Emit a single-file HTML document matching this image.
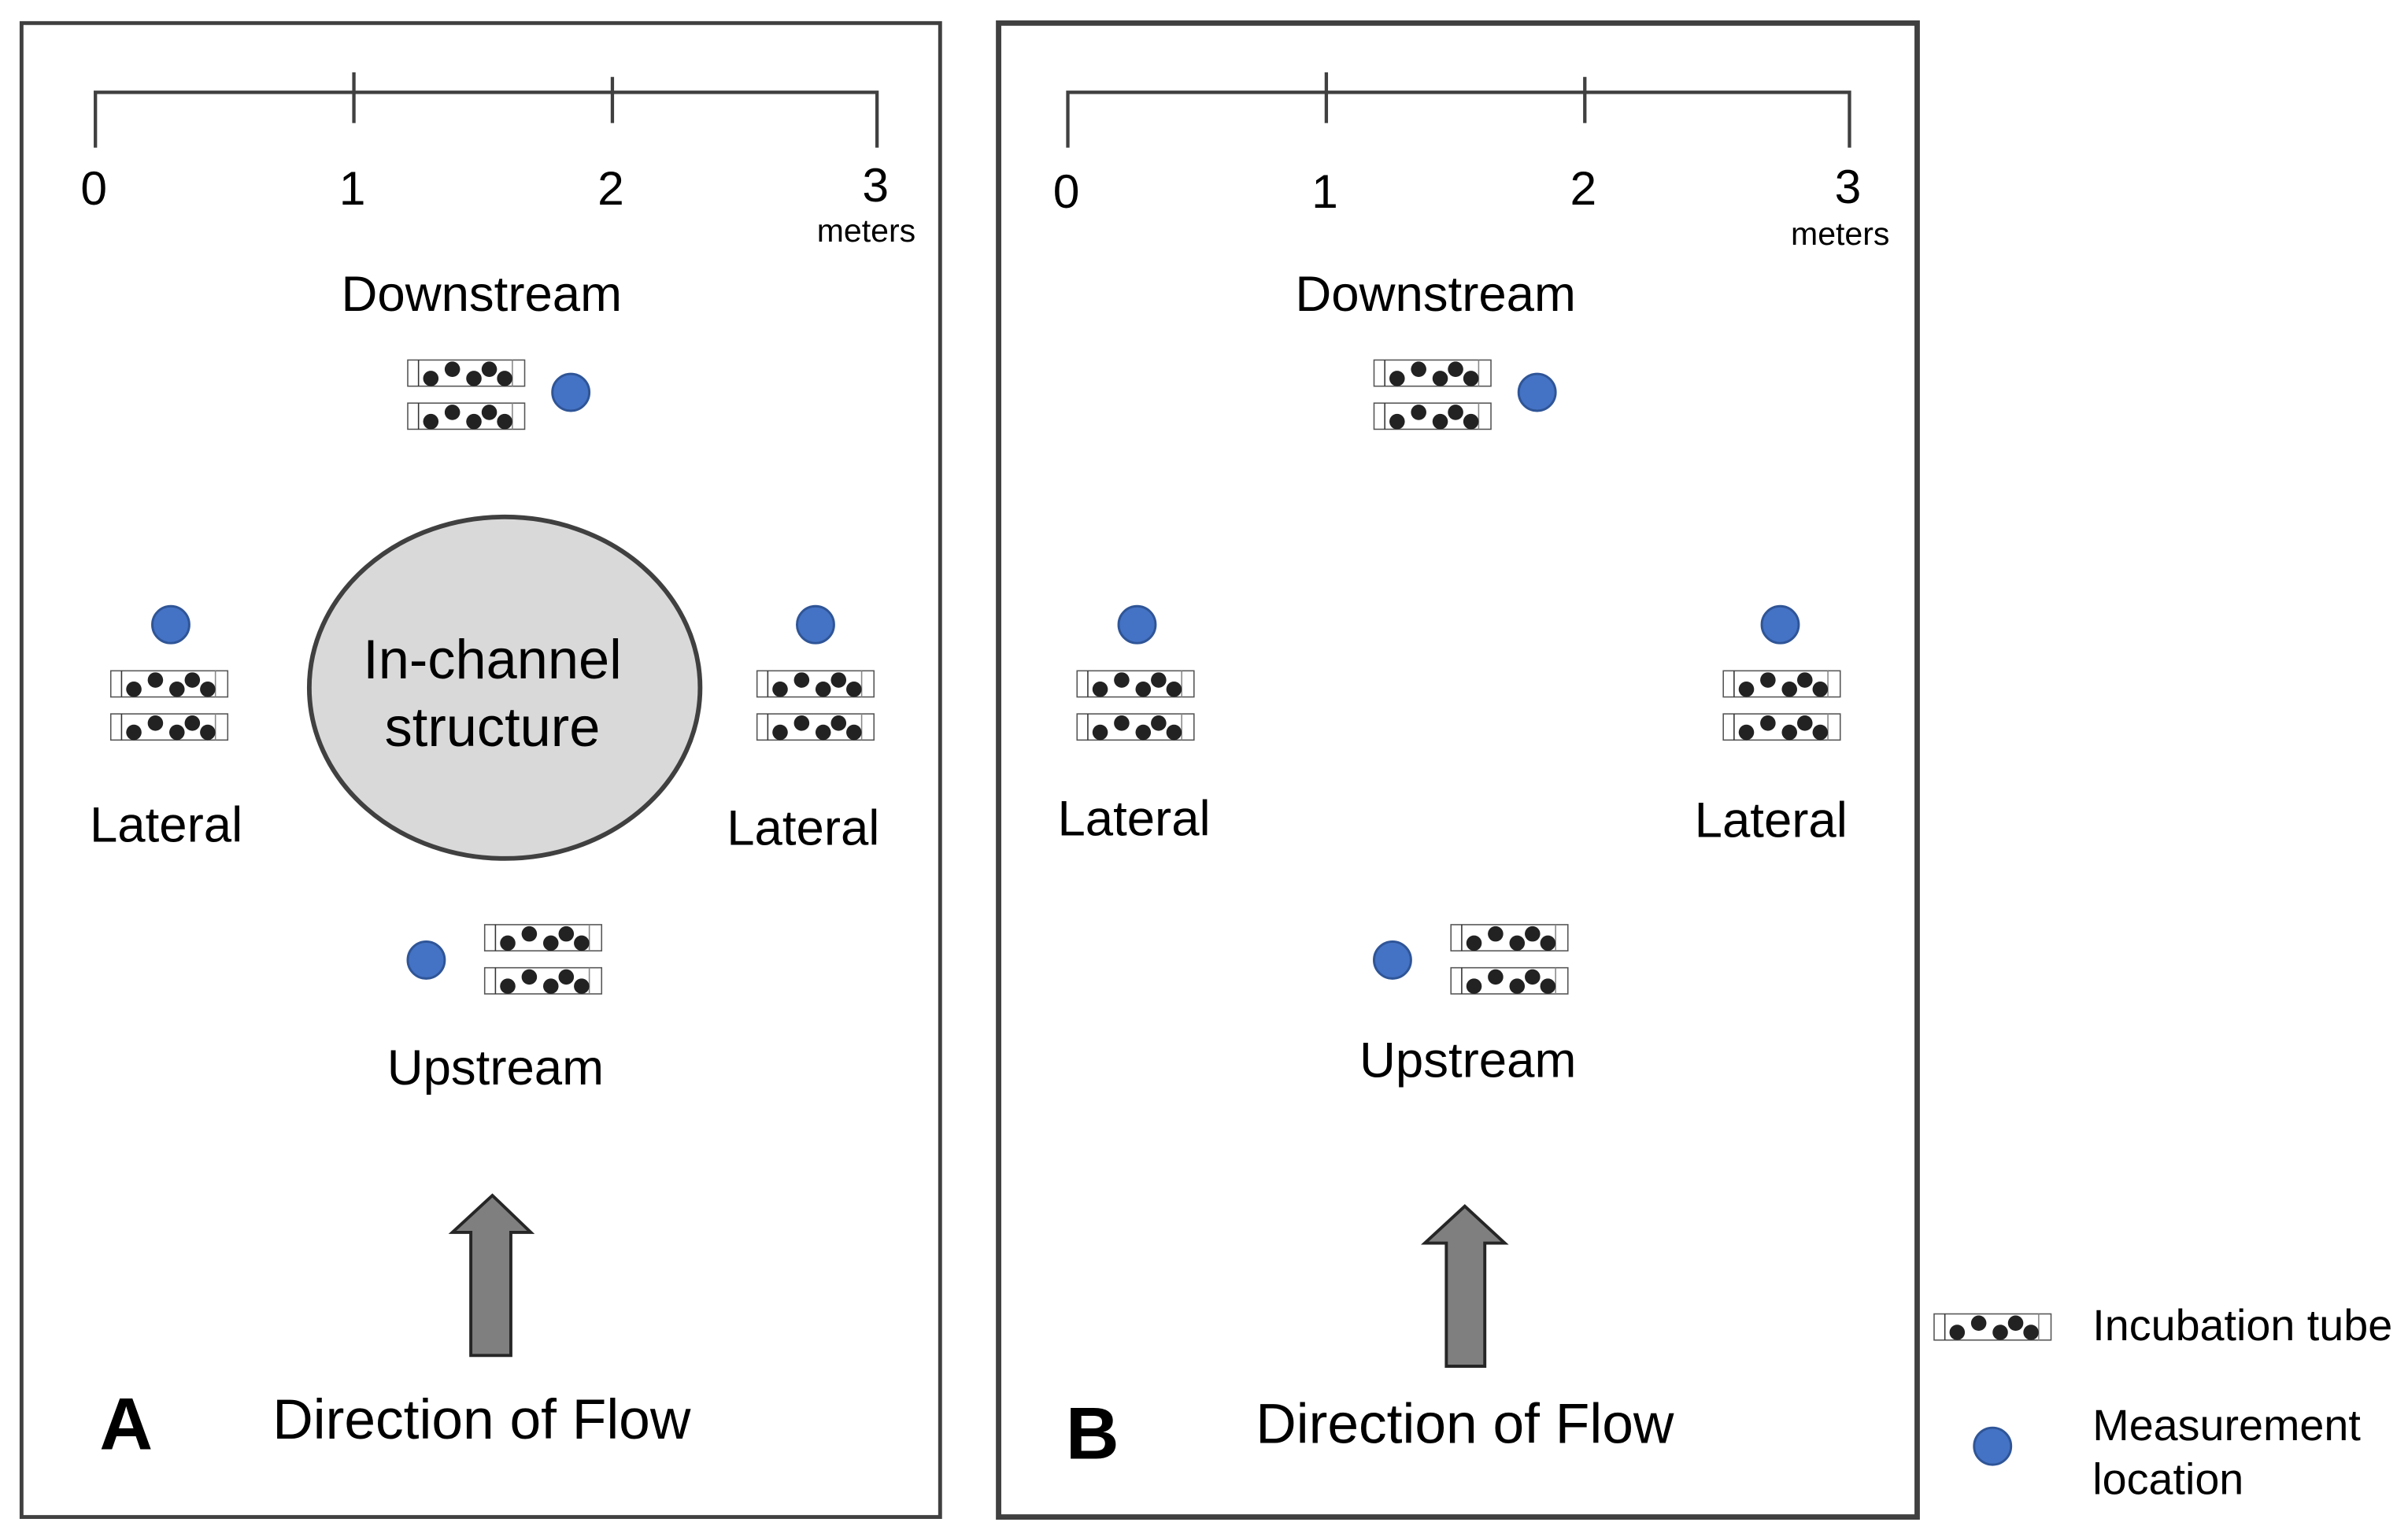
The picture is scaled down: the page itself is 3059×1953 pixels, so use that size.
<!DOCTYPE html>
<html><head><meta charset="utf-8"><style>html,body{margin:0;padding:0;background:#fff}svg{display:block}text{font-family:"Liberation Sans",Arial,sans-serif;fill:#000}</style></head>
<body>
<svg width="3059" height="1953" viewBox="0 0 1565 999" preserveAspectRatio="none" xmlns="http://www.w3.org/2000/svg">
<defs>
<g id="tube">
<rect x="0" y="0" width="76" height="17" fill="#fff" stroke="#555" stroke-width="0.8"/>
<line x1="7" y1="0" x2="7" y2="17" stroke="#333" stroke-width="0.8"/>
<line x1="68" y1="0" x2="68" y2="17" stroke="#888" stroke-width="0.8"/>
<circle cx="15" cy="12" r="5" fill="#222"/><circle cx="29" cy="6" r="5" fill="#222"/><circle cx="43" cy="12" r="5" fill="#222"/><circle cx="53" cy="6" r="5" fill="#222"/><circle cx="63" cy="12" r="5" fill="#222"/>
</g>
<g id="pair"><use href="#tube"/><use href="#tube" y="28"/></g>
<circle id="dot" r="12" fill="#4472c4" stroke="#2f5597" stroke-width="1.5"/>
</defs>

<!-- Panel A -->
<rect x="14" y="15" width="597" height="971" fill="none" stroke="#404040" stroke-width="2.5"/>
<g stroke="#404040" stroke-width="2.2" fill="none">
<polyline points="62,96 62,60 570,60 570,96"/>
<line x1="230" y1="47" x2="230" y2="80"/><line x1="398" y1="50" x2="398" y2="80"/>
</g>
<g font-size="31" text-anchor="middle"><text x="61" y="133">0</text><text x="229" y="133">1</text><text x="397" y="133">2</text><text x="569" y="131">3</text></g>
<text x="563" y="157" font-size="21" text-anchor="middle">meters</text>
<text x="313" y="202" font-size="32.5" text-anchor="middle">Downstream</text>
<use href="#pair" x="265" y="234"/><use href="#dot" x="371" y="255"/>
<ellipse cx="328" cy="447" rx="127" ry="111" fill="#d9d9d9" stroke="#404040" stroke-width="3"/>
<text x="320" y="441" font-size="36" text-anchor="middle">In-channel</text>
<text x="320" y="485" font-size="36" text-anchor="middle">structure</text>
<use href="#dot" x="111" y="406"/><use href="#pair" x="72" y="436"/>
<text x="108" y="547" font-size="32.5" text-anchor="middle">Lateral</text>
<use href="#dot" x="530" y="406"/><use href="#pair" x="492" y="436"/>
<text x="522" y="549" font-size="32.5" text-anchor="middle">Lateral</text>
<use href="#dot" x="277" y="624"/><use href="#pair" x="315" y="601"/>
<text x="322" y="705" font-size="32.5" text-anchor="middle">Upstream</text>
<polygon points="306,881 306,801 294,801 320,777 345,801 332,801 332,881" fill="#7f7f7f" stroke="#262626" stroke-width="2"/>
<text x="82" y="942" font-size="48" font-weight="bold" text-anchor="middle">A</text>
<text x="313" y="935" font-size="36.5" text-anchor="middle">Direction of Flow</text>

<!-- Panel B -->
<rect x="649" y="15" width="597" height="971" fill="none" stroke="#404040" stroke-width="3.5"/>
<g stroke="#404040" stroke-width="2.2" fill="none">
<polyline points="694,96 694,60 1202,60 1202,96"/>
<line x1="862" y1="47" x2="862" y2="80"/><line x1="1030" y1="50" x2="1030" y2="80"/>
</g>
<g font-size="31" text-anchor="middle"><text x="693" y="135">0</text><text x="861" y="135">1</text><text x="1029" y="133">2</text><text x="1201" y="132">3</text></g>
<text x="1196" y="159" font-size="21" text-anchor="middle">meters</text>
<text x="933" y="202" font-size="32.5" text-anchor="middle">Downstream</text>
<use href="#pair" x="893" y="234"/><use href="#dot" x="999" y="255"/>
<use href="#dot" x="739" y="406"/><use href="#pair" x="700" y="436"/>
<text x="737" y="543" font-size="32.5" text-anchor="middle">Lateral</text>
<use href="#dot" x="1157" y="406"/><use href="#pair" x="1120" y="436"/>
<text x="1151" y="544" font-size="32.5" text-anchor="middle">Lateral</text>
<use href="#dot" x="905" y="624"/><use href="#pair" x="943" y="601"/>
<text x="954" y="700" font-size="32.5" text-anchor="middle">Upstream</text>
<polygon points="940,888 940,808 926,808 952,784 978,808 965,808 965,888" fill="#7f7f7f" stroke="#262626" stroke-width="2"/>
<text x="710" y="948" font-size="48" font-weight="bold" text-anchor="middle">B</text>
<text x="952" y="938" font-size="36.5" text-anchor="middle">Direction of Flow</text>

<!-- Legend -->
<use href="#tube" x="1257" y="854"/>
<text x="1360" y="871" font-size="28.5">Incubation tube</text>
<use href="#dot" x="1295" y="940"/>
<text x="1360" y="936" font-size="28.5">Measurement</text>
<text x="1360" y="971" font-size="28.5">location</text>
</svg>
</body></html>
